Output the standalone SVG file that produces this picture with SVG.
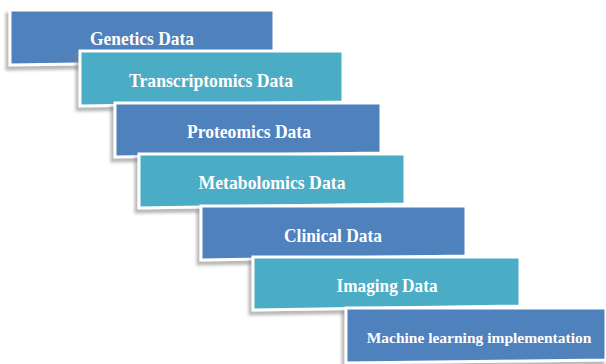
<svg xmlns="http://www.w3.org/2000/svg" width="606" height="364" viewBox="0 0 606 364">
<defs>
<filter id="sh" x="-10%" y="-20%" width="120%" height="150%">
<feDropShadow dx="-3" dy="4" stdDeviation="1.6" flood-color="#7f7f7f" flood-opacity="0.55"/>
</filter>
</defs>
<style>
.box{stroke:#ffffff;stroke-width:3;stroke-linejoin:miter;filter:url(#sh)}
.blue{fill:#4f81bd}
.teal{fill:#4bacc6}
.lbl{font-family:"Liberation Serif","Times New Roman",serif;font-weight:bold;fill:#ffffff;text-anchor:middle;font-size:19px}
.sm{font-size:15.5px}
</style>
<rect width="606" height="364" fill="#ffffff"/>
<g id="genetics">
<polygon class="box blue" points="10,10 274,10 274,61 10,65"/>
<text class="lbl" x="142" y="45" textLength="104" lengthAdjust="spacingAndGlyphs">Genetics Data</text>
</g>
<g id="transcriptomics">
<polygon class="box teal" points="80,51 343,51 343,102 80,106"/>
<text class="lbl" x="211" y="87" textLength="164" lengthAdjust="spacingAndGlyphs">Transcriptomics Data</text>
</g>
<g id="proteomics">
<polygon class="box blue" points="115,103 381,103 381,153 115,157"/>
<text class="lbl" x="249" y="138" textLength="124" lengthAdjust="spacingAndGlyphs">Proteomics Data</text>
</g>
<g id="metabolomics">
<polygon class="box teal" points="139,154 405,154 405,204 139,208"/>
<text class="lbl" x="272" y="189" textLength="147" lengthAdjust="spacingAndGlyphs">Metabolomics Data</text>
</g>
<g id="clinical">
<polygon class="box blue" points="201,206 466,206 466,256 201,260"/>
<text class="lbl" x="333" y="242" textLength="98" lengthAdjust="spacingAndGlyphs">Clinical Data</text>
</g>
<g id="imaging">
<polygon class="box teal" points="253,257 520,257 520,306 253,310"/>
<text class="lbl" x="387" y="292" textLength="101" lengthAdjust="spacingAndGlyphs">Imaging Data</text>
</g>
<g id="ml">
<polygon class="box blue" points="346,308 606,308 606,360 346,363"/>
<text class="lbl sm" x="479" y="343">Machine learning implementation</text>
</g>
<g id="connectors"></g>
</svg>
